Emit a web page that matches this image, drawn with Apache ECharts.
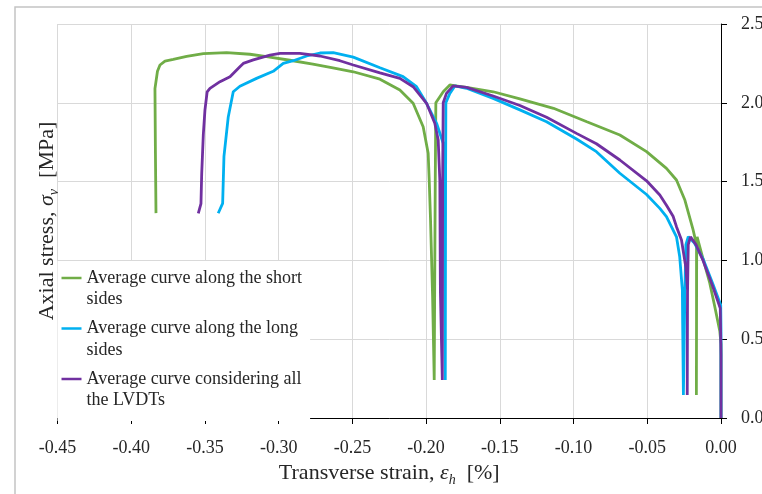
<!DOCTYPE html>
<html><head><meta charset="utf-8">
<script src="https://cdn.jsdelivr.net/npm/echarts@6/dist/echarts.min.js"></script>
<style>html,body{margin:0;padding:0;background:#fff}#c{width:762px;height:494px}</style>
</head><body><div id="c"></div>
<script>
// ---- data ----
const seriesNames = [
  'Average curve along the short\nsides',
  'Average curve along the long\nsides',
  'Average curve considering all\nthe LVDTs'
];
const seriesColors = ['#70AD47', '#00B0F0', '#7030A0'];

// [transverse strain %, axial stress MPa]
const shortSides = [
  [0,0],[0,0.47],[-0.0008,0.55],[-0.0042,0.706],[-0.0076,0.855],[-0.0132,1.045],[-0.0162,1.15],
  [-0.0165,1.05],[-0.0166,0.6],[-0.0167,0.146],[-0.0166,0.6],[-0.0166,1.1],[-0.0189,1.193],
  [-0.0245,1.383],[-0.0302,1.51],[-0.037,1.584],[-0.0505,1.69],[-0.0686,1.796],[-0.091,1.88],
  [-0.1136,1.965],[-0.1364,2.025],[-0.1545,2.07],[-0.1726,2.098],[-0.18,2.108],[-0.1839,2.113],
  [-0.1884,2.07],[-0.1934,2.0],[-0.1938,1.5],[-0.1942,0.8],[-0.1945,0.241],[-0.1956,0.77],
  [-0.197,1.256],[-0.1979,1.51],[-0.1986,1.68],[-0.202,1.848],[-0.2088,1.997],[-0.2178,2.081],
  [-0.2313,2.15],[-0.2494,2.197],[-0.2632,2.222],[-0.2768,2.245],[-0.2924,2.27],[-0.3082,2.293],
  [-0.3195,2.308],[-0.3353,2.318],[-0.3511,2.312],[-0.3624,2.295],[-0.3715,2.276],[-0.3771,2.265],
  [-0.3805,2.24],[-0.3822,2.2],[-0.3839,2.09],[-0.3836,1.7],[-0.3832,1.3]
];
const longSides = [
  [0,0],[0,0.56],[-0.0002,0.717],[-0.0055,0.85],[-0.0122,1.01],[-0.018,1.11],[-0.0222,1.15],
  [-0.0238,1.1],[-0.0245,0.8],[-0.0255,0.146],[-0.026,0.6],[-0.0262,0.812],[-0.028,1.023],
  [-0.0302,1.15],[-0.037,1.277],[-0.0415,1.33],[-0.0505,1.418],[-0.0686,1.553],[-0.0845,1.69],
  [-0.098,1.77],[-0.1183,1.88],[-0.1364,1.955],[-0.1545,2.028],[-0.1726,2.092],[-0.1805,2.107],
  [-0.1839,2.06],[-0.1866,2.0],[-0.1868,1.5],[-0.187,0.241],[-0.1873,1.0],[-0.1875,1.5],
  [-0.1884,1.743],[-0.1929,1.87],[-0.1997,1.997],[-0.2065,2.102],[-0.2156,2.166],[-0.2313,2.222],
  [-0.2494,2.29],[-0.263,2.318],[-0.272,2.316],[-0.281,2.297],[-0.2901,2.267],[-0.2969,2.25],
  [-0.3037,2.2],[-0.315,2.155],[-0.3263,2.105],[-0.3308,2.07],[-0.3342,1.91],[-0.3371,1.66],
  [-0.338,1.362],[-0.341,1.299]
];
const allLVDTs = [
  [0,0],[0,0.4],[-0.0005,0.696],[-0.0055,0.833],[-0.0122,1.0],[-0.017,1.1],[-0.0207,1.15],
  [-0.0222,1.1],[-0.0227,0.8],[-0.0229,0.146],[-0.0228,0.6],[-0.0227,0.812],[-0.0239,0.96],
  [-0.0268,1.13],[-0.0302,1.214],[-0.0325,1.28],[-0.037,1.35],[-0.0415,1.415],[-0.0505,1.505],
  [-0.0686,1.637],[-0.0845,1.74],[-0.098,1.806],[-0.1183,1.908],[-0.1364,1.983],[-0.1545,2.043],
  [-0.1726,2.098],[-0.1817,2.107],[-0.1862,2.06],[-0.1884,2.0],[-0.1888,1.5],[-0.189,0.241],
  [-0.1903,0.8],[-0.1907,1.51],[-0.1918,1.764],[-0.1941,1.87],[-0.1997,1.997],[-0.2088,2.102],
  [-0.2178,2.155],[-0.2313,2.19],[-0.2494,2.24],[-0.2585,2.267],[-0.272,2.297],[-0.2856,2.314],
  [-0.2991,2.314],[-0.3059,2.303],[-0.3172,2.272],[-0.324,2.25],[-0.3263,2.229],[-0.333,2.165],
  [-0.3398,2.134],[-0.3466,2.092],[-0.3485,2.07],[-0.35,1.954],[-0.3511,1.8],[-0.3522,1.55],
  [-0.3527,1.36],[-0.3545,1.299]
];
const xRange = [-0.45, 0, 0.05];
const yRange = [0, 2.5, 0.5];
const xTitle = ['Transverse strain, ', 'ε', 'h', '  [%]'];
const yTitle = ['Axial stress, ', 'σ', 'v', '  [MPa]'];

// ---- chart ----
const FONT = "'Liberation Serif', 'Times New Roman', serif";
const TXT = '#262626';
const richTitle = {
  t: {fontFamily: FONT, fontSize: 22, color: TXT, lineHeight: 28},
  i: {fontFamily: FONT, fontSize: 22, color: TXT, fontStyle: 'italic', lineHeight: 28},
  s: {fontFamily: FONT, fontSize: 14, color: TXT, fontStyle: 'italic', verticalAlign: 'bottom', lineHeight: 28}
};
const mkTitle = a => `{t|${a[0]}}{i|${a[1]}}{s|${a[2]}}{t|${a[3]}}`;

const chart = echarts.init(document.getElementById('c'), null, {renderer: 'canvas'});
const datasets = [shortSides, longSides, allLVDTs];
chart.setOption({
  animation: false,
  backgroundColor: '#fff',
  grid: {left: 57.5, right: 41, top: 24, bottom: 76, containLabel: false, outerBoundsMode: 'none'},
  graphic: [{
    type: 'rect', silent: true, z: -10,
    shape: {x: 15, y: 7, width: 800, height: 600},
    style: {fill: 'none', stroke: '#c4c4c4', lineWidth: 1.5}
  }],
  legend: {
    orient: 'vertical', left: 57.5, top: 261,
    backgroundColor: '#fff',
    padding: [-15.25, 8, 9.75, 4],
    itemGap: -14,
    icon: 'rect', itemWidth: 20, itemHeight: 2.5,
    formatter: name => '\n' + name,
    textStyle: {fontFamily: FONT, fontSize: 18, color: TXT, lineHeight: 21.5},
    data: seriesNames
  },
  xAxis: {
    type: 'value', min: xRange[0], max: xRange[1], interval: xRange[2],
    axisLine: {onZero: false, lineStyle: {color: '#000', width: 1}},
    axisTick: {show: true, length: 6, lineStyle: {color: '#000'}},
    axisLabel: {fontFamily: FONT, fontSize: 18, color: TXT, margin: 21, formatter: v => v.toFixed(2)},
    splitLine: {show: true, lineStyle: {color: '#d9d9d9', width: 1}},
    name: mkTitle(xTitle), nameLocation: 'middle', nameGap: 41,
    nameTextStyle: {rich: richTitle}
  },
  yAxis: [{
    type: 'value', position: 'right', min: yRange[0], max: yRange[1], interval: yRange[2],
    axisLine: {show: true, onZero: false, lineStyle: {color: '#000', width: 1}},
    axisTick: {show: true, length: 6, lineStyle: {color: '#000'}},
    axisLabel: {fontFamily: FONT, fontSize: 18, color: TXT, margin: 20, formatter: v => v.toFixed(1)},
    splitLine: {show: true, lineStyle: {color: '#d9d9d9', width: 1}}
  }, {
    type: 'value', position: 'left', min: yRange[0], max: yRange[1], interval: yRange[2],
    axisLine: {show: false}, axisTick: {show: false}, axisLabel: {show: false}, splitLine: {show: false},
    name: mkTitle(yTitle), nameLocation: 'middle', nameGap: -4,
    nameTextStyle: {rich: richTitle}
  }],
  series: datasets.map((d, k) => ({
    name: seriesNames[k], type: 'line', data: d, yAxisIndex: 0,
    showSymbol: false, symbol: 'none', smooth: false,
    itemStyle: {color: seriesColors[k]},
    lineStyle: {color: seriesColors[k], width: 2.8}
  }))
});
</script>
</body></html>
